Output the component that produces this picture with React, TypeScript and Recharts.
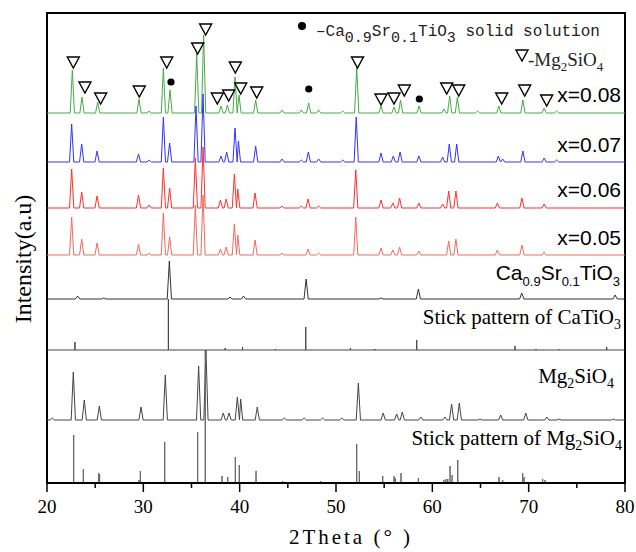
import { ComposedChart, Line, Scatter, XAxis, YAxis, ReferenceArea } from "recharts";

// peak lists: [2theta, height above the pattern's own baseline]
const x008Peaks = [
  [22.63, 43], [23.63, 16], [25.26, 11], [29.55, 14], [30.6, 2], [32.08, 45], [32.77, 23],
  [35.54, 60], [36.26, 78], [38.06, 7], [38.72, 8], [39.52, 36], [39.93, 18], [41.66, 13],
  [44.4, 3], [46.4, 3], [47.16, 10], [48.2, 3], [50.7, 2], [52.15, 46], [54.67, 7], [56.02, 6],
  [56.7, 13], [58.62, 7], [61.2, 4], [61.8, 17], [62.6, 16], [64.7, 2], [66.9, 7], [69.4, 13],
  [71.6, 5], [72.9, 2],
];
const x007Peaks = [
  [22.56, 38], [23.6, 18], [25.2, 11], [29.5, 8], [30.6, 2], [32.08, 45], [32.73, 19],
  [35.47, 56], [36.2, 68], [38.06, 6], [38.65, 10], [39.52, 34], [39.87, 21], [41.66, 16],
  [44.4, 3], [46.4, 2], [47.13, 10], [48.2, 3], [50.7, 2], [52.1, 45], [54.67, 9], [55.95, 6],
  [56.65, 10], [58.6, 6], [61.07, 5], [61.76, 18], [62.53, 18], [66.85, 6], [67.3, 3],
  [69.4, 11], [71.6, 4], [72.9, 2],
];
const x006Peaks = [
  [22.56, 39], [23.6, 16], [25.2, 12], [29.5, 13], [30.6, 3], [32.08, 40], [32.73, 20],
  [35.4, 50], [36.2, 61], [38.0, 8], [38.6, 9], [39.45, 34], [39.8, 19], [41.6, 15],
  [44.4, 2], [46.4, 2], [47.1, 9], [48.2, 2], [52.05, 38], [54.67, 8], [55.9, 5], [56.6, 10],
  [58.6, 5], [61.07, 4], [61.7, 17], [62.45, 17], [66.75, 5], [69.3, 10], [71.6, 4],
];
const x005Peaks = [
  [22.56, 38], [23.6, 16], [25.2, 12], [29.5, 11], [30.6, 2], [32.08, 42], [32.73, 18],
  [35.4, 50], [36.2, 60], [38.0, 6], [38.6, 8], [39.45, 31], [39.8, 20], [41.6, 15],
  [44.4, 2], [47.1, 6], [48.2, 2], [52.05, 38], [54.67, 7], [55.9, 5], [56.6, 8], [58.6, 4],
  [61.7, 14], [62.45, 16], [66.75, 5], [69.3, 10], [71.6, 3],
];
const cstPeaks = [
  [23.18, 3], [25.9, 1], [32.7, 38], [39.0, 2], [40.4, 3], [46.9, 20], [54.67, 1],
  [58.55, 10], [69.28, 6], [78.97, 4],
];
const catioSticks = [
  [22.9, 8], [32.6, 51], [38.5, 2], [40.3, 3], [43.7, 1], [46.86, 23], [51.5, 2], [54.05, 1],
  [58.38, 10], [68.58, 4], [70.76, 1], [73.2, 1], [78.1, 3],
];
const mgPeaks = [
  [20.55, 2], [22.73, 48], [23.87, 20], [25.43, 14], [29.76, 13], [32.28, 45], [35.74, 54],
  [36.5, 70], [38.3, 7], [38.9, 7], [39.76, 23], [40.1, 21], [41.83, 13], [44.63, 2],
  [46.7, 2], [48.6, 2], [50.6, 2], [52.32, 37], [54.9, 7], [56.3, 6], [56.88, 8], [58.8, 3],
  [61.3, 3], [62.0, 16], [62.8, 17], [64.95, 1], [67.1, 5], [69.7, 7], [71.88, 3],
  [73.15, 1], [78.8, 1],
];
const mgSticks = [
  [20.5, 1], [22.77, 48], [23.77, 14], [25.36, 10], [25.46, 9], [29.55, 3], [29.69, 12],
  [32.22, 41], [35.64, 51], [36.43, 133], [38.17, 7], [38.76, 6], [39.55, 26], [39.96, 18],
  [41.7, 12], [44.47, 2], [48.4, 2], [50.8, 1], [52.15, 39], [52.42, 12], [54.85, 7],
  [56.02, 7], [56.16, 5], [56.75, 10], [58.55, 5], [61.2, 3], [61.4, 4], [61.6, 4],
  [61.84, 17], [62.05, 8], [62.64, 23], [66.92, 6], [67.3, 3], [69.38, 10], [69.52, 6],
  [71.45, 4], [71.7, 3], [72.84, 1],
];

// vertical offsets of the stacked patterns (intensity units)
const offsets = { x008: 370, x007: 321, x006: 275, x005: 228, cst: 184, catio: 133, mg: 63, mgStick: 0 };

// phase markers [2theta, intensity]
const triangleMarks = [
  [22.73, 421], [23.94, 396], [25.57, 385], [29.58, 392], [32.43, 421], [35.64, 435],
  [36.47, 454], [37.68, 385], [38.86, 388], [39.55, 416], [40.11, 395], [41.77, 391],
  [52.23, 421], [54.67, 384], [56.02, 385], [57.09, 393], [61.49, 395], [62.74, 393],
  [67.2, 385], [69.59, 393], [71.87, 383],
];
const dotMarks = [[32.87, 401], [47.17, 394], [58.65, 384]];

const xTicks = [20, 25, 30, 35, 40, 45, 50, 55, 60, 65, 70, 75, 80];

const HW = 0.22;
function peakLine(peaks: number[][], base: number) {
  const pts = [{ x: 20, y: base }];
  peaks.forEach(([p, h]) => {
    const last = pts[pts.length - 1].x;
    if (p - HW > last) pts.push({ x: p - HW, y: base });
    pts.push({ x: p, y: base + h });
    pts.push({ x: p + HW, y: base });
  });
  pts.push({ x: 80, y: base });
  return pts;
}
function stickLine(sticks: number[][], base: number) {
  const pts = [{ x: 20, y: base }];
  sticks.forEach(([p, h]) => {
    pts.push({ x: p, y: base }, { x: p, y: base + h }, { x: p, y: base });
  });
  pts.push({ x: 80, y: base });
  return pts;
}
const toPts = (arr: number[][]) => arr.map(([x, y]) => ({ x, y }));

const series = [
  { key: "x008", data: peakLine(x008Peaks, offsets.x008), color: "#48aa48" },
  { key: "x007", data: peakLine(x007Peaks, offsets.x007), color: "#3232ff" },
  { key: "x006", data: peakLine(x006Peaks, offsets.x006), color: "#ff2e2e" },
  { key: "x005", data: peakLine(x005Peaks, offsets.x005), color: "#f26a5e" },
  { key: "cst", data: peakLine(cstPeaks, offsets.cst), color: "#333" },
  { key: "catio", data: stickLine(catioSticks, offsets.catio), color: "#444" },
  { key: "mg", data: peakLine(mgPeaks, offsets.mg), color: "#444" },
  { key: "mgStick", data: stickLine(mgSticks, offsets.mgStick), color: "#666" },
];

const Triangle = (p: any) => (
  <path
    d={`M${p.cx - 6},${p.cy - 5} L${p.cx + 6},${p.cy - 5} L${p.cx},${p.cy + 6} Z`}
    fill="#fff" stroke="#000" strokeWidth={1.4}
  />
);
const Dot = (p: any) => <circle cx={p.cx} cy={p.cy} r={3.6} fill="#000" />;

const Tick = (props: any) => {
  const { x, y, payload } = props;
  const major = payload.value % 10 === 0;
  return (
    <g>
      <line x1={x} x2={x} y1={y} y2={y + (major ? 9 : 5)} stroke="#000" strokeWidth={1.5} />
      {major && (
        <text x={x} y={y + 30} textAnchor="middle" fontFamily="Liberation Serif" fontSize={19} fill="#000">
          {payload.value}
        </text>
      )}
    </g>
  );
};

const serif = "Liberation Serif";
const sans = "Liberation Sans";
const mono = "Liberation Mono";

export default function App() {
  return (
    <div style={{ position: "absolute", left: 0, top: 0, width: 636, height: 552, background: "#fff" }}>
      <ComposedChart width={636} height={552} margin={{ top: 13, right: 11, left: 47, bottom: 29 }}>
        <XAxis
          dataKey="x" type="number" domain={[20, 80]} ticks={xTicks} interval={0}
          allowDataOverflow height={40} tickSize={0} tickMargin={0} tickLine={false}
          axisLine={{ stroke: "#000", strokeWidth: 2 }} tick={<Tick />}
        />
        <YAxis
          dataKey="y" type="number" domain={[0, 470]} allowDataOverflow width={0}
          tick={false} tickLine={false} axisLine={{ stroke: "#000", strokeWidth: 2.5 }}
        />
        <ReferenceArea x1={20} x2={80} y1={0} y2={470} fill="none" fillOpacity={0} stroke="#000" strokeWidth={2} ifOverflow="visible" />
        {series.map((s) => (
          <Line
            key={s.key} data={s.data} dataKey="y" type="linear" stroke={s.color}
            strokeWidth={1} dot={false} activeDot={false} isAnimationActive={false}
          />
        ))}
        <Scatter data={toPts(triangleMarks)} dataKey="y" shape={<Triangle />} isAnimationActive={false} />
        <Scatter data={toPts(dotMarks)} dataKey="y" shape={<Dot />} isAnimationActive={false} />
      </ComposedChart>

      <svg width={636} height={552} style={{ position: "absolute", left: 0, top: 0, pointerEvents: "none" }}>
        {/* legend */}
        <circle cx={302} cy={26} r={4} fill="#000" />
        <text x={316} y={36} fontFamily={mono} fontSize={16} fill="#222">
          –Ca<tspan fontSize={15} dy={6}>0.9</tspan>
          <tspan dy={-6}>Sr</tspan><tspan fontSize={15} dy={6}>0.1</tspan>
          <tspan dy={-6}>TiO</tspan><tspan fontSize={15} dy={6}>3</tspan>
          <tspan dy={-6}> solid solution</tspan>
        </text>
        <path d="M516,50 L528,50 L522,61 Z" fill="#fff" stroke="#000" strokeWidth={1.4} />
        <text x={528} y={66} fontFamily={serif} fontSize={19} fill="#222">
          -Mg<tspan fontSize={13} dy={5}>2</tspan><tspan dy={-5}>SiO</tspan><tspan fontSize={13} dy={5}>4</tspan>
        </text>

        {/* pattern labels */}
        {[["x=0.08", 102], ["x=0.07", 152], ["x=0.06", 197], ["x=0.05", 245]].map(([t, y]) => (
          <text key={t} x={621} y={y as number} textAnchor="end" fontFamily={sans} fontSize={21} fill="#000">{t}</text>
        ))}
        <text x={620} y={280} textAnchor="end" fontFamily={sans} fontSize={21} fill="#000">
          Ca<tspan fontSize={13} dy={6}>0.9</tspan><tspan dy={-6}>Sr</tspan><tspan fontSize={13} dy={6}>0.1</tspan>
          <tspan dy={-6}>TiO</tspan><tspan fontSize={13} dy={6}>3</tspan>
        </text>
        <text x={621} y={324} textAnchor="end" fontFamily={serif} fontSize={21} fill="#000">
          Stick pattern of CaTiO<tspan fontSize={14} dy={5}>3</tspan>
        </text>
        <text x={614} y={383} textAnchor="end" fontFamily={serif} fontSize={21} fill="#000">
          Mg<tspan fontSize={14} dy={5}>2</tspan><tspan dy={-5}>SiO</tspan><tspan fontSize={14} dy={5}>4</tspan>
        </text>
        <text x={622} y={445} textAnchor="end" fontFamily={serif} fontSize={21} fill="#000">
          Stick pattern of Mg<tspan fontSize={14} dy={5}>2</tspan><tspan dy={-5}>SiO</tspan><tspan fontSize={14} dy={5}>4</tspan>
        </text>

        {/* axis titles */}
        <text x={31} y={259} transform="rotate(-90, 31, 259)" textAnchor="middle" fontFamily={serif} fontSize={24} fill="#000">
          Intensity(a.u)
        </text>
        <text x={351} y={544} textAnchor="middle" fontFamily={serif} fontSize={21} letterSpacing={3} fill="#000">
          2Theta (° )
        </text>
      </svg>
    </div>
  );
}
